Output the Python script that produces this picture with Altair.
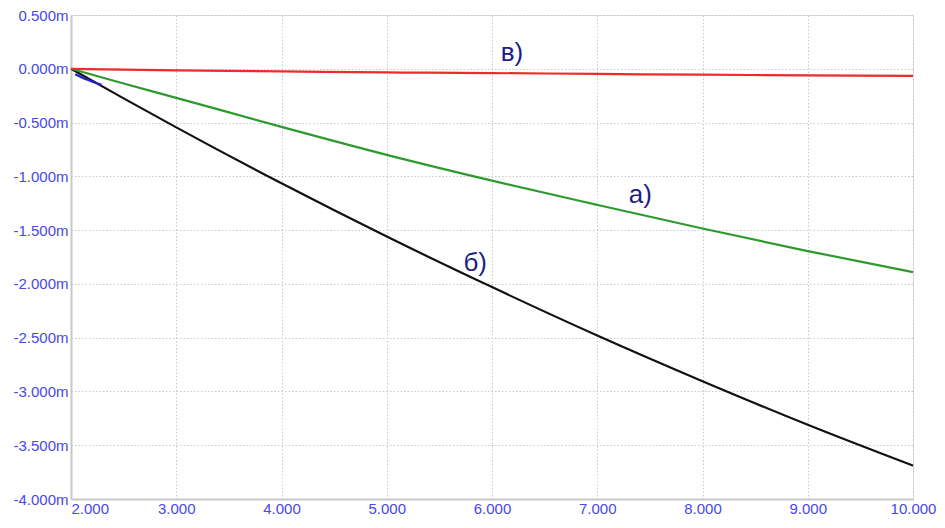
import altair as alt
import pandas as pd

# ---- data (values in milli-units) ----
x_vals = [2.0, 2.5, 3.0, 4.0, 5.0, 6.0, 7.0, 8.0, 9.0, 10.0]
curve_a = [0.0, -0.137, -0.27, -0.54, -0.80, -1.04, -1.265, -1.485, -1.695, -1.89]   # green
curve_b = [0.0, -0.275, -0.545, -1.065, -1.56, -2.03, -2.48, -2.905, -3.31, -3.69]    # black
curve_v = [0.0, -0.008, -0.015, -0.025, -0.034, -0.040, -0.048, -0.055, -0.061, -0.066]  # red
blue_x = [2.04, 2.15, 2.29]
blue_vals = [-0.05, -0.10, -0.15]

label_text = ["в)", "а)", "б)"]
label_x = [6.19, 7.41, 5.84]
label_y = [0.15, -1.17, -1.81]

x_ticks = [2, 3, 4, 5, 6, 7, 8, 9, 10]
y_ticks = [0.5, 0.0, -0.5, -1.0, -1.5, -2.0, -2.5, -3.0, -3.5, -4.0]

rows = []
for name, ys in [("a", curve_a), ("b", curve_b), ("v", curve_v)]:
    for x, y in zip(x_vals, ys):
        rows.append({"series": name, "x": x, "y": y})
for x, y in zip(blue_x, blue_vals):
    rows.append({"series": "blue", "x": x, "y": y})
df = pd.DataFrame(rows)
labels = pd.DataFrame({"t": label_text, "x": label_x, "y": label_y})

FONT = "Liberation Sans"
LBL = "#4848e8"

xs = alt.Scale(domain=[2, 10], nice=False, zero=False)
ys = alt.Scale(domain=[-4, 0.5], nice=False, zero=False)

x_axis = alt.Axis(
    values=x_ticks, title=None, format=".3f", tickSize=0, labelPadding=2,
    labelFont=FONT, labelFontSize=15, labelColor=LBL,
    labelAlign={"condition": {"test": "datum.value <= 2", "value": "left"}, "value": "center"},
    grid=True, gridColor="#c8c8c8", gridDash=[1.5, 2], gridWidth=1,
    domainColor="#c8c8c8", domainWidth=2, labelOverlap=False,
)
y_axis = alt.Axis(
    values=y_ticks, title=None, tickSize=0, labelPadding=3,
    labelExpr="(datum.value < 0 ? '-' : '') + format(abs(datum.value), '.3f') + 'm'",
    labelFont=FONT, labelFontSize=15, labelColor=LBL,
    grid=True, gridColor="#c8c8c8", gridDash=[1.5, 2], gridWidth=1,
    domainColor="#c8c8c8", domainWidth=2, labelOverlap=False,
)

X = alt.X("x:Q", scale=xs, axis=x_axis)
Y = alt.Y("y:Q", scale=ys, axis=y_axis)

base = alt.Chart(df)

def line(series, color):
    return base.transform_filter(alt.datum.series == series).mark_line(
        color=color, strokeWidth=2.2, interpolate="monotone"
    ).encode(x=X, y=Y)

text = alt.Chart(labels).mark_text(
    font=FONT, fontSize=26, color="#1e1e8a", align="center", baseline="middle"
).encode(x=X, y=Y, text="t:N")

chart = alt.layer(
    line("b", "#111111"),
    line("a", "#2e9a2e"),
    line("blue", "#2020d0"),
    line("v", "#ee2a2a"),
    text,
).properties(
    width=842, height=484,
    autosize=alt.AutoSizeParams(type="none"),
    padding={"left": 63, "top": 7, "right": 24, "bottom": 21},
).configure_view(
    stroke="#cfcfcf", strokeWidth=2
).configure(background="white")

chart.save("out.html", embed_options={"renderer": "svg", "actions": False})
